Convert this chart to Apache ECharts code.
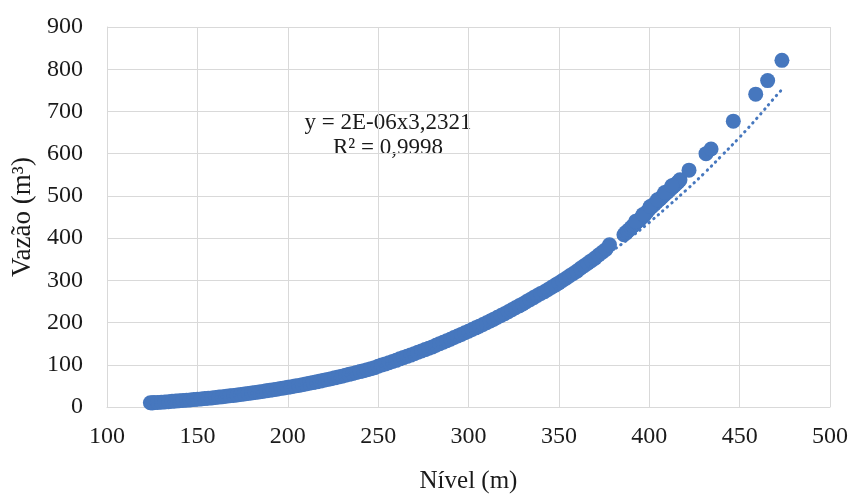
<!DOCTYPE html>
<html>
<head>
<meta charset="utf-8">
<script src="https://cdn.jsdelivr.net/npm/echarts@6/dist/echarts.min.js"></script>
<style>
  html, body { margin: 0; padding: 0; background: #ffffff; }
  #chart { width: 853px; height: 499px; }
</style>
</head>
<body>
<div id="chart"></div>
<script>
// Nível (m) of each observation
const nivel = [
  124, 125, 126, 128, 130, 132, 134, 136, 138, 140, 142, 144, 146, 148, 150,
  152, 154, 156, 158, 160, 162, 164, 166, 168, 170, 172, 174, 176, 178, 180,
  182, 184, 186, 188, 190, 192, 194, 196, 198, 200, 202, 204, 206, 208, 210,
  212, 214, 216, 218, 220, 222, 224, 226, 228, 230, 232, 234, 236, 238, 240,
  242, 244, 246, 248, 250, 252, 254, 256, 258, 260, 262, 264, 266, 268, 270,
  272, 274, 276, 278, 280, 282, 284, 286, 288, 290, 292, 294, 296, 298, 300,
  302, 304, 306, 308, 310, 312, 314, 316, 318, 320, 322, 324, 326, 328, 330,
  332, 334, 336, 338, 340, 342, 344, 346, 348, 350, 352, 354, 356, 358, 360,
  362, 364, 366, 368, 370, 372, 374, 376, 378,
  386, 387, 388, 389, 390, 391, 392, 393, 394, 395, 396, 397, 398, 399, 400,
  401, 402, 403, 404, 405, 406, 407, 408, 409, 410, 411, 412, 413, 414, 415,
  416, 417,
  // readings slightly above the main band near the top of the range
  392.5, 396.5, 400.5, 404.5, 408.5, 412.5,
  422, 431.4, 434.2, 446.5, 458.9, 465.5, 473.4
];

// Vazão (m³) of each observation
const vazao = [
  10, 9.5, 10.4, 10.9, 11.5, 12.1, 12.7, 13.4, 14.0, 14.7, 15.4, 16.1, 16.8, 17.5, 18.3,
  19.1, 19.9, 20.7, 21.6, 22.6, 23.5, 24.5, 25.5, 26.5, 27.5, 28.6, 29.7, 30.8, 32.0, 33.2,
  34.4, 35.6, 36.9, 38.2, 39.5, 40.9, 42.3, 43.7, 45.1, 46.5, 48.0, 49.6, 51.2, 52.8, 54.4,
  56.1, 57.8, 59.6, 61.4, 63.2, 65.1, 67.0, 69.0, 71.0, 73.1, 75.2, 77.3, 79.4, 81.6, 83.8,
  86.1, 88.4, 90.8, 93.2, 96.6, 99.5, 102.1, 104.8, 107.6, 110.5, 114.0, 117.0, 120.0, 122.9, 126.0,
  129.6, 132.7, 135.9, 139.1, 142.3, 146.4, 150.0, 153.4, 156.9, 160.4, 164.6, 168.3, 172.0, 175.8, 179.5,
  183.5, 187.5, 191.5, 195.5, 199.5, 203.8, 208.1, 212.5, 216.7, 221.1, 225.7, 230.4, 234.9, 239.6, 244.2,
  249.2, 254.2, 259.1, 264.1, 269.0, 273.0, 278.2, 283.5, 288.7, 293.9, 299.5, 305.1, 310.7, 316.3, 321.9,
  328.5, 334.5, 340.6, 346.6, 352.6, 360.0, 366.5, 373.0, 384.0,
  408, 413, 416, 420, 425, 429, 433, 437, 441, 445, 449, 453, 458, 463, 469,
  473, 477, 481, 485, 489, 493, 497, 501, 505, 509, 513, 517, 521, 525, 529,
  533, 538,
  440, 456, 475, 491, 508, 524,
  561, 600, 611, 677, 741, 773, 821
];

// Power trendline y = 2E-06·x^3,2321, sampled along the level range
const trendNivel = [124, 130, 140, 150, 160, 170, 180, 190, 200, 210, 220, 230, 240, 250,
  260, 270, 280, 290, 300, 310, 320, 330, 340, 350, 360, 370, 380, 390, 400, 410, 420,
  430, 440, 450, 460, 470, 473];
const trendVazao = [9.9, 11.5, 14.7, 18.3, 22.6, 27.5, 33.2, 39.5, 46.5, 54.4, 63.2, 73.1, 83.8, 95.6,
  108.6, 122.6, 137.9, 154.7, 172.6, 191.8, 212.6, 234.8, 258.7, 284, 311, 340, 371, 403, 437, 474, 512,
  552, 595, 639, 686, 736, 750];

// Axis ticks
const xTicks = { min: 100, max: 500, interval: 50 };
const yTicks = { min: 0, max: 900, interval: 100 };

const equationLines = ['y = 2E-06x3,2321', 'R² = 0,9998'];

const blue = '#4677be';
const gridGray = '#d9d9d9';
const serif = '"Liberation Serif", "Times New Roman", serif';
const textColor = '#1a1a1a';

const points = nivel.map((x, i) => [x, vazao[i]]);
const trend = trendNivel.map((x, i) => [x, trendVazao[i]]);

const chart = echarts.init(document.getElementById('chart'), null, { renderer: 'canvas' });

chart.setOption({
  backgroundColor: '#ffffff',
  animation: false,
  grid: { left: 107, right: 23, top: 27, bottom: 84, containLabel: false },
  xAxis: {
    type: 'value',
    min: xTicks.min, max: xTicks.max, interval: xTicks.interval,
    name: 'Nível (m)',
    nameLocation: 'middle',
    nameGap: 62,
    nameTextStyle: { fontFamily: serif, fontSize: 25, color: textColor },
    axisLine: { show: true, lineStyle: { color: gridGray, width: 1 } },
    axisTick: { show: false },
    axisLabel: { fontFamily: serif, fontSize: 24, color: textColor, margin: 18 },
    splitLine: { show: true, lineStyle: { color: gridGray, width: 1 } }
  },
  yAxis: {
    type: 'value',
    min: yTicks.min, max: yTicks.max, interval: yTicks.interval,
    name: 'Vazão (m³)',
    nameLocation: 'middle',
    nameGap: 69,
    nameRotate: 90,
    nameTextStyle: { fontFamily: serif, fontSize: 27, color: textColor },
    axisLine: { show: true, lineStyle: { color: gridGray, width: 1 } },
    axisTick: { show: false },
    axisLabel: { fontFamily: serif, fontSize: 24, color: textColor, margin: 24 },
    splitLine: { show: true, lineStyle: { color: gridGray, width: 1 } }
  },
  graphic: [{
    type: 'text',
    left: 388 - 100,
    top: 110,
    style: {
      text: equationLines.join('\n'),
      font: '23px ' + serif,
      fill: textColor,
      textAlign: 'center',
      lineHeight: 25,
      width: 200,
      x: 100
    }
  }],
  series: [
    {
      name: 'Vazão',
      type: 'scatter',
      data: points,
      symbol: 'circle',
      symbolSize: 15,
      itemStyle: { color: blue, opacity: 1 },
      z: 2
    },
    {
      name: 'Tendência',
      type: 'line',
      data: trend,
      smooth: true,
      showSymbol: false,
      symbol: 'none',
      lineStyle: { color: blue, width: 3, type: [0.5, 5.5], cap: 'round' },
      z: 3
    }
  ]
});
</script>
</body>
</html>
